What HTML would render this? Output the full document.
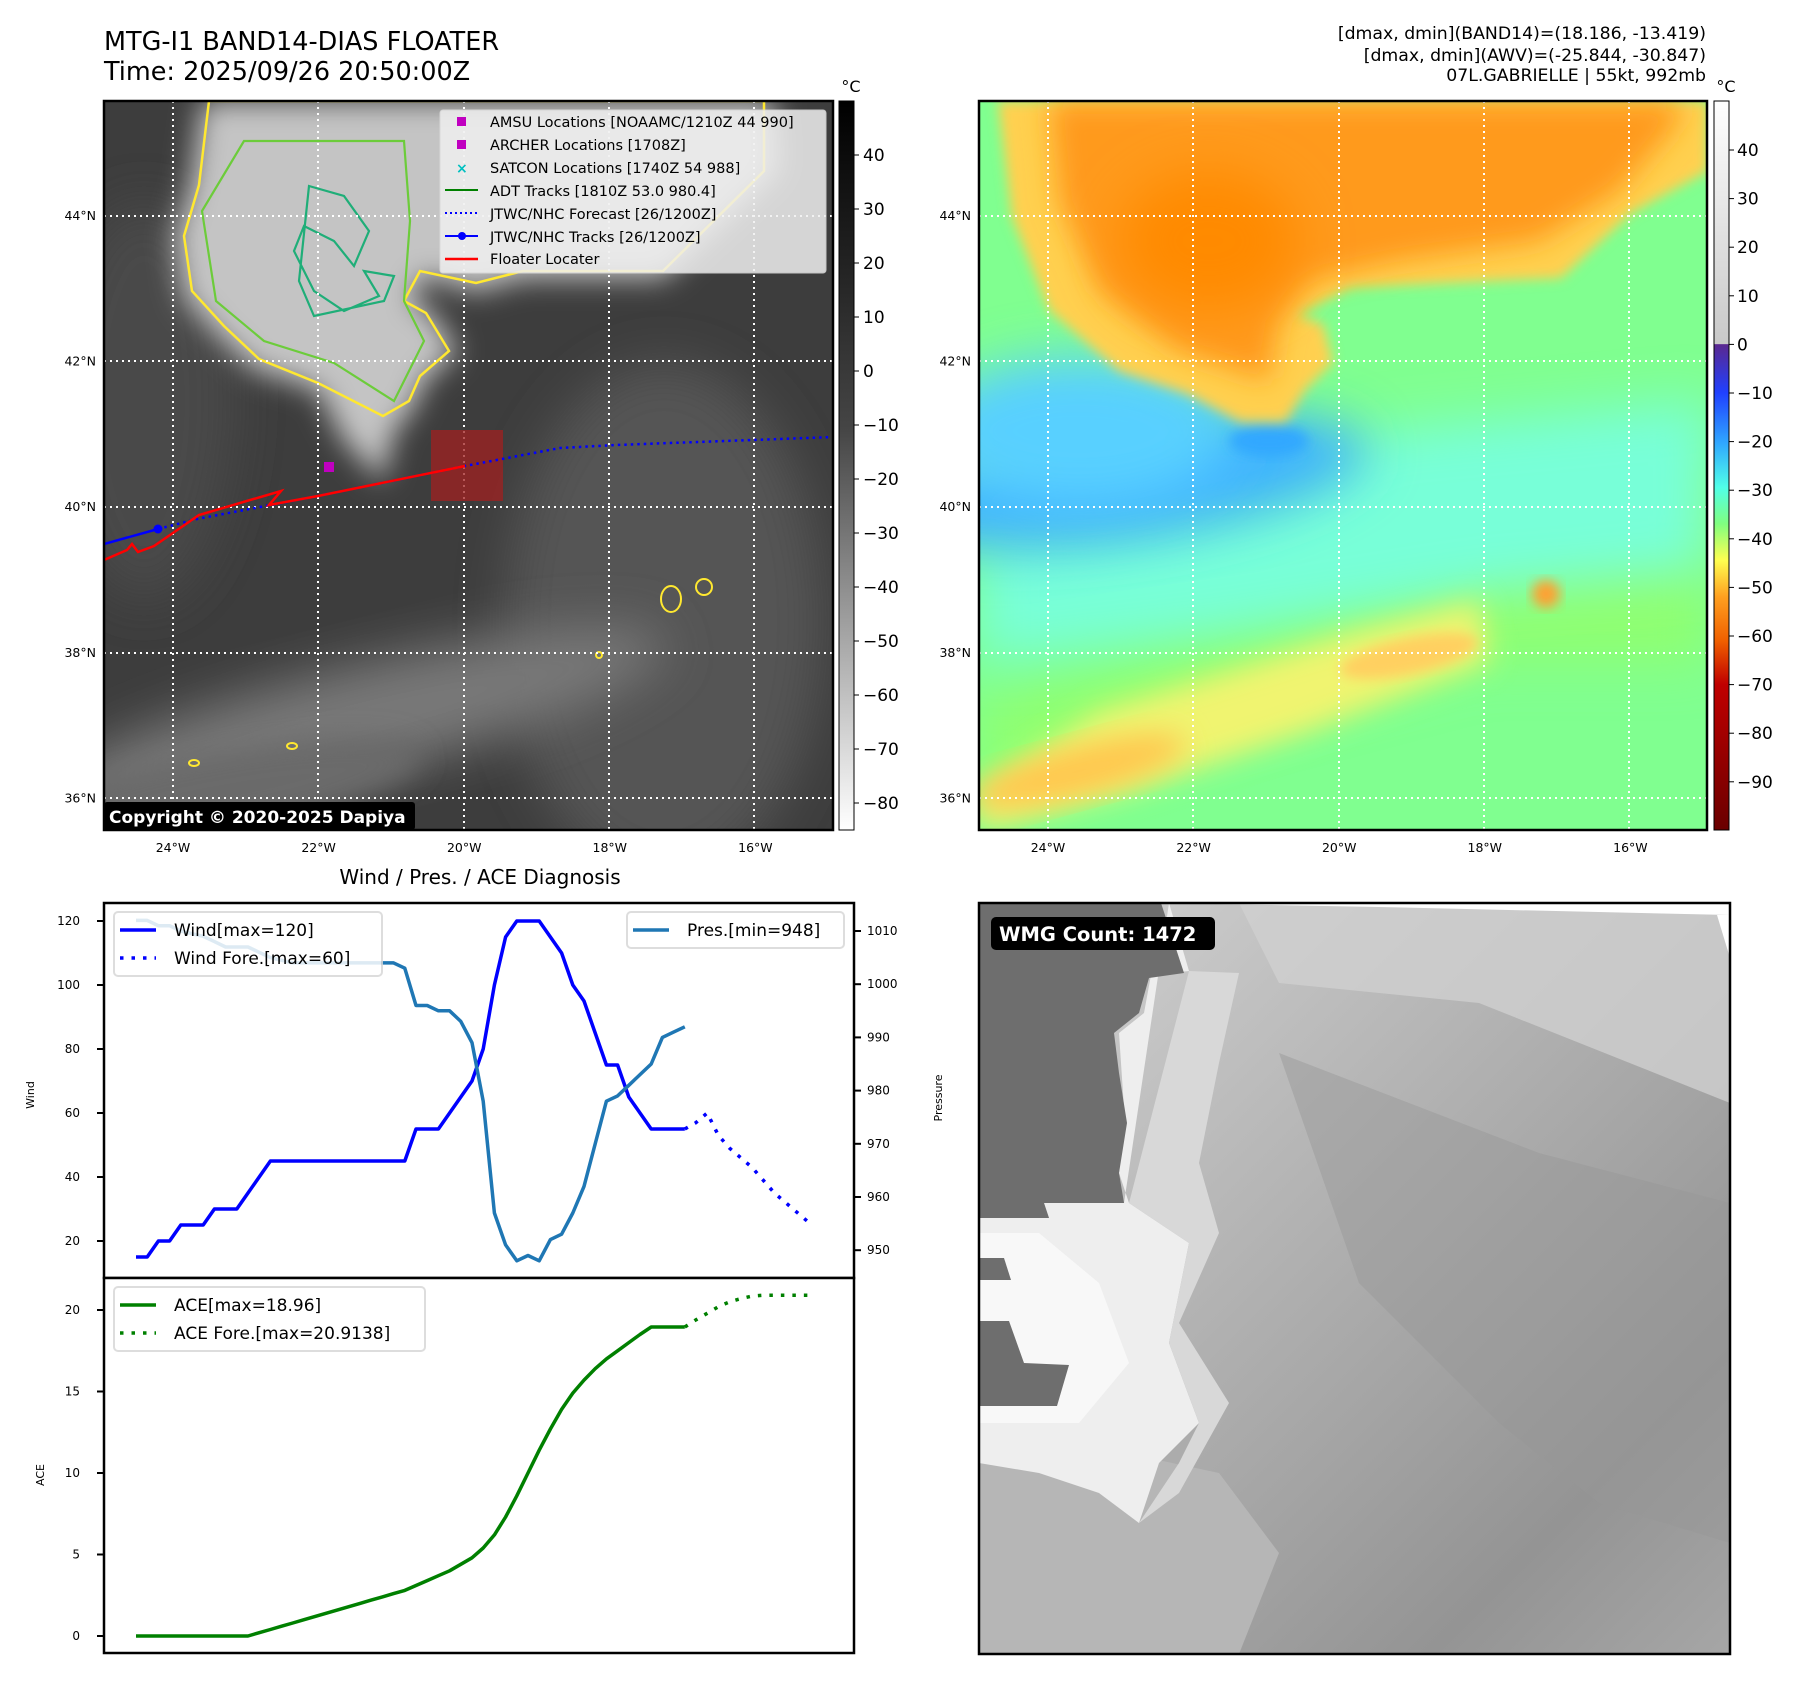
<!DOCTYPE html>
<html><head><meta charset="utf-8"><style>
html,body{margin:0;padding:0;background:#fff}
svg{display:block;font-family:"DejaVu Sans","Liberation Sans",sans-serif}
</style></head><body>
<svg id="fig" width="1797" height="1690" viewBox="0 0 1797 1690" xmlns="http://www.w3.org/2000/svg">
<defs>
<filter id="b6" x="-20%" y="-20%" width="140%" height="140%"><feGaussianBlur stdDeviation="6"/></filter>
<filter id="b14" x="-30%" y="-30%" width="160%" height="160%"><feGaussianBlur stdDeviation="14"/></filter>
<filter id="b25" x="-40%" y="-40%" width="180%" height="180%"><feGaussianBlur stdDeviation="25"/></filter>
<linearGradient id="cb1" x1="0" y1="0" x2="0" y2="1"><stop offset="0" stop-color="#000"/><stop offset="0.45" stop-color="#454545"/><stop offset="1" stop-color="#fff"/></linearGradient>
<linearGradient id="cb2" x1="0" y1="0" x2="0" y2="1">
<stop offset="0" stop-color="#ffffff"/><stop offset="0.333" stop-color="#c8c8c8"/>
<stop offset="0.334" stop-color="#5a2890"/><stop offset="0.40" stop-color="#2040ff"/><stop offset="0.47" stop-color="#30a8ff"/>
<stop offset="0.53" stop-color="#50ffe8"/><stop offset="0.58" stop-color="#80ff80"/><stop offset="0.63" stop-color="#ffff50"/>
<stop offset="0.68" stop-color="#ffa020"/><stop offset="0.74" stop-color="#f06000"/><stop offset="0.80" stop-color="#c00000"/><stop offset="1" stop-color="#6a0000"/></linearGradient>
<linearGradient id="wmgbg" x1="0" y1="0" x2="1" y2="1"><stop offset="0" stop-color="#d4d4d4"/><stop offset="0.55" stop-color="#a8a8a8"/><stop offset="0.8" stop-color="#949494"/><stop offset="1" stop-color="#a6a6a6"/></linearGradient>
<clipPath id="c1"><rect x="0" y="0" width="729" height="729"/></clipPath>
<clipPath id="c2"><rect x="0" y="0" width="751" height="751"/></clipPath>
</defs>

<text x="104" y="50" font-size="25.5">MTG-I1 BAND14-DIAS FLOATER</text>
<text x="104" y="80" font-size="25.5">Time: 2025/09/26 20:50:00Z</text>
<g font-size="17.3" text-anchor="end">
<text x="1706" y="39">[dmax, dmin](BAND14)=(18.186, -13.419)</text>
<text x="1706" y="61">[dmax, dmin](AWV)=(-25.844, -30.847)</text>
<text x="1706" y="81">07L.GABRIELLE | 55kt, 992mb</text>
</g>

<!-- MAP 1 -->
<g transform="translate(104,101)">
<g clip-path="url(#c1)">
<rect width="729" height="729" fill="#3d3d3d"/>
<ellipse cx="560" cy="520" rx="160" ry="260" fill="#555" filter="url(#b25)"/>
<ellipse cx="250" cy="620" rx="320" ry="55" transform="rotate(-14 250 620)" fill="#787878" filter="url(#b25)"/>
<ellipse cx="120" cy="690" rx="200" ry="40" transform="rotate(-10 120 690)" fill="#6a6a6a" filter="url(#b14)"/>
<ellipse cx="40" cy="300" rx="90" ry="200" fill="#4a4a4a" filter="url(#b25)"/>
<polygon points="98,0 86,84 70,135 79,196 112,233 149,268 214,289 240,340 279,380 290,330 310,307 321,279 354,251 326,209 307,200 321,175 372,191 419,177 559,177 675,70 670,0" fill="#c4c4c4" filter="url(#b14)"/>
<polygon points="105,0 95,84 80,135 88,190 120,225 155,258 214,282 279,315 305,300 316,275 345,250 322,212 300,200 316,170 372,182 419,170 559,170 660,70 660,0" fill="none" stroke="#ffe830" stroke-width="2.5"/>
<polygon points="140,40 98,110 112,200 160,240 230,262 290,300 320,240 300,200 306,120 300,40" fill="none" stroke="#6ccc3a" stroke-width="2.2"/>
<path d="M205,85 L240,95 L265,130 L250,165 L230,140 L200,125 L190,150 L210,190 L240,210 L275,195 L260,170 L290,175 L280,200 L210,215 L195,180 Z" fill="none" stroke="#1fae78" stroke-width="2.2"/>
<g fill="none" stroke="#ffe830" stroke-width="2"><ellipse cx="567" cy="498" rx="10" ry="13"/><ellipse cx="600" cy="486" rx="8" ry="8"/><ellipse cx="495" cy="554" rx="3" ry="3"/><ellipse cx="90" cy="662" rx="5" ry="3"/><ellipse cx="188" cy="645" rx="5" ry="3"/></g>
<g stroke="#fff" stroke-width="2" stroke-dasharray="2 4">
<line x1="69" y1="0" x2="69" y2="729"/><line x1="214" y1="0" x2="214" y2="729"/><line x1="360" y1="0" x2="360" y2="729"/><line x1="505" y1="0" x2="505" y2="729"/><line x1="650" y1="0" x2="650" y2="729"/>
<line x1="0" y1="115" x2="729" y2="115"/><line x1="0" y1="260" x2="729" y2="260"/><line x1="0" y1="406" x2="729" y2="406"/><line x1="0" y1="552" x2="729" y2="552"/><line x1="0" y1="697" x2="729" y2="697"/>
</g>
<rect x="327" y="329" width="72" height="71" fill="#a02020" opacity="0.75"/>
<polyline points="54,428 93,418 214,395 361,365 456,347 512,344 730,336" fill="none" stroke="#0000ff" stroke-width="2.5" stroke-dasharray="2.5 4"/>
<polyline points="0,443 54,428" fill="none" stroke="#0000ff" stroke-width="2.5"/>
<circle cx="54" cy="428" r="4.5" fill="#0000ff"/>
<polyline points="0,459 23,449 28,443 34,451 50,445 95,414 177,390 165,404 214,395 361,365" fill="none" stroke="#ff0000" stroke-width="2.5"/>
<rect x="220" y="361" width="10" height="10" fill="#c000c0"/>
<g>
<rect x="336" y="9" width="386" height="163" fill="#f0f0f0" opacity="0.85" stroke="#ddd" rx="3"/>
<g font-size="14.5">
<rect x="353" y="16" width="9" height="9" fill="#c000c0"/><text x="386" y="26">AMSU Locations [NOAAMC/1210Z 44 990]</text>
<rect x="353" y="39" width="9" height="9" fill="#c000c0"/><text x="386" y="49">ARCHER Locations [1708Z]</text>
<text x="352" y="72" fill="#00c0c0" font-weight="bold" font-size="14">×</text><text x="386" y="72">SATCON Locations [1740Z 54 988]</text>
<line x1="341" y1="89" x2="374" y2="89" stroke="#008000" stroke-width="2"/><text x="386" y="95">ADT Tracks [1810Z 53.0 980.4]</text>
<line x1="341" y1="112" x2="374" y2="112" stroke="#0000ff" stroke-width="2" stroke-dasharray="2 3"/><text x="386" y="118">JTWC/NHC Forecast [26/1200Z]</text>
<line x1="341" y1="135" x2="374" y2="135" stroke="#0000ff" stroke-width="2"/><circle cx="358" cy="135" r="4" fill="#0000ff"/><text x="386" y="141">JTWC/NHC Tracks [26/1200Z]</text>
<line x1="341" y1="158" x2="374" y2="158" stroke="#ff0000" stroke-width="2.5"/><text x="386" y="163">Floater Locater</text>
</g></g>
<rect x="0" y="701" width="311" height="28" fill="#000" rx="3"/>
<text x="5" y="722" font-size="17" font-weight="bold" fill="#fff">Copyright © 2020-2025 Dapiya</text>
</g>
<rect x="0" y="0" width="729" height="729" fill="none" stroke="#000" stroke-width="2.5"/>
</g>
<rect x="839" y="101" width="15" height="729" fill="url(#cb1)" stroke="#000" stroke-width="1"/>
<text x="851" y="92" font-size="16" text-anchor="middle">°C</text>
<g id="cb1ticks" font-size="17"></g>

<!-- MAP 2 -->
<g transform="translate(979,101)">
<g clip-path="url(#c1)">
<rect width="729" height="729" fill="#80ff90"/>
<polygon points="0,600 200,540 450,480 729,360 729,560 500,560 200,640 0,700" fill="#90ff70" filter="url(#b25)"/>
<polygon points="0,440 150,420 300,390 400,330 729,300 729,470 500,490 250,530 0,560" fill="#78ffd8" filter="url(#b25)"/>
<ellipse cx="150" cy="380" rx="240" ry="60" transform="rotate(-8 150 380)" fill="#40b4ff" filter="url(#b25)"/>
<ellipse cx="100" cy="330" rx="150" ry="75" fill="#58d0ff" filter="url(#b25)"/>
<ellipse cx="290" cy="340" rx="40" ry="16" fill="#30a8ff" filter="url(#b6)"/>
<polygon points="0,690 120,610 250,570 380,530 500,500 510,560 330,630 150,690 0,729" fill="#f0f470" filter="url(#b14)"/>
<ellipse cx="100" cy="670" rx="110" ry="25" transform="rotate(-15 100 670)" fill="#ffc850" filter="url(#b14)"/>
<ellipse cx="430" cy="555" rx="70" ry="18" transform="rotate(-12 430 555)" fill="#ffd060" filter="url(#b6)"/>
<ellipse cx="567" cy="493" rx="14" ry="14" fill="#ffa030" filter="url(#b6)"/>
<polygon points="19,0 33,116 70,209 140,270 209,293 261,321 307,321 326,289 354,261 344,223 317,214 372,186 466,182 582,177 652,112 729,70 729,0" fill="#ffd050" filter="url(#b6)"/>
<polygon points="70,0 80,100 120,190 200,250 290,280 300,220 330,180 420,160 560,140 640,90 700,20 700,0" fill="#ff9a1a" filter="url(#b14)"/>
<ellipse cx="230" cy="140" rx="90" ry="70" fill="#ff8a00" filter="url(#b25)"/>
<g stroke="#fff" stroke-width="2" stroke-dasharray="2 4">
<line x1="69" y1="0" x2="69" y2="729"/><line x1="214" y1="0" x2="214" y2="729"/><line x1="360" y1="0" x2="360" y2="729"/><line x1="505" y1="0" x2="505" y2="729"/><line x1="650" y1="0" x2="650" y2="729"/>
<line x1="0" y1="115" x2="729" y2="115"/><line x1="0" y1="260" x2="729" y2="260"/><line x1="0" y1="406" x2="729" y2="406"/><line x1="0" y1="552" x2="729" y2="552"/><line x1="0" y1="697" x2="729" y2="697"/>
</g></g>
<rect x="0" y="0" width="728" height="729" fill="none" stroke="#000" stroke-width="2.5"/>
</g>
<rect x="1714" y="101" width="15" height="729" fill="url(#cb2)" stroke="#000" stroke-width="1"/>
<text x="1726" y="92" font-size="16" text-anchor="middle">°C</text>
<g id="cb2ticks" font-size="17"></g>
<g id="maplabels" font-size="12.5"></g>

<!-- CHART -->
<text x="480" y="884" font-size="20" text-anchor="middle">Wind / Pres. / ACE Diagnosis</text>
<g id="chart"></g>

<!-- WMG -->
<g transform="translate(979,903)">
<g clip-path="url(#c2)">
<rect width="751" height="751" fill="url(#wmgbg)"/>
<polygon points="260,0 751,0 751,200 500,100 300,80" fill="#cfcfcf" opacity="0.8"/>
<polygon points="300,150 560,250 751,300 751,640 620,600 520,520 380,380" fill="#969696" opacity="0.45"/>
<polygon points="0,520 100,540 240,570 300,650 260,751 0,751" fill="#b6b6b6"/>
<polygon points="190,0 210,68 172,72 165,110 140,130 146,220 140,270 150,300 210,340 190,440 220,520 180,560 160,620 120,590 60,570 0,560 0,315 70,315 65,300 145,300" fill="#eeeeee"/>
<polygon points="210,68 260,70 240,160 220,260 240,330 200,420 250,500 200,590 160,620 200,560 220,520 190,440 210,340 150,300" fill="#d8d8d8"/>
<polygon points="0,330 60,330 120,380 150,460 100,520 0,520" fill="#f8f8f8"/>
<polygon points="0,0 182,0 205,70 170,75 160,110 135,130 140,170 148,220 140,270 145,300 65,300 70,315 0,315" fill="#6e6e6e"/>
<polygon points="0,355 25,355 32,377 0,377" fill="#6e6e6e"/>
<polygon points="0,418 30,418 45,460 90,462 78,503 0,503" fill="#6e6e6e"/>
<polygon points="183,0 751,0 751,12 400,4" fill="#fff"/>
<polygon points="738,12 751,12 751,55" fill="#fff"/>
</g>
<rect x="12" y="14" width="224" height="33" rx="5" fill="#000"/>
<text x="20" y="38" font-size="19.5" font-weight="bold" fill="#fff">WMG Count: 1472</text>
<rect width="751" height="751" fill="none" stroke="#000" stroke-width="2.5"/>
</g>
</svg>
<script>
const windObs = [15,15,20,20,25,25,25,30,30,30,35,40,45,45,45,45,45,45,45,45,45,45,45,45,45,55,55,55,60,65,70,80,100,115,120,120,120,115,110,100,95,85,75,75,65,60,55,55,55,55];
const windFore = [55,57,60,53,49,46,43,39,35,32,29,26];
const presObs = [1012,1012,1011,1011,1010,1009.5,1009,1008,1007,1007,1007,1006,1005,1004.5,1004,1004,1004,1004,1004,1004,1004,1004,1004,1004,1003,996,996,995,995,993,989,978,957,951,948,949,948,952,953,957,962,970,978,979,981,983,985,990,991,992];
const aceObs = [0,0,0,0,0,0,0,0,0,0,0,0.2,0.4,0.6,0.8,1.0,1.2,1.4,1.6,1.8,2.0,2.2,2.4,2.6,2.8,3.1,3.4,3.7,4.0,4.4,4.8,5.4,6.2,7.3,8.6,10.0,11.4,12.7,13.9,14.9,15.7,16.4,17.0,17.5,18.0,18.5,18.96,18.96,18.96,18.96];
const aceFore = [18.96,19.4,19.8,20.2,20.5,20.7,20.85,20.9,20.91,20.91,20.91,20.91];
const windTicks = [20,40,60,80,100,120];
const presTicks = [950,960,970,980,990,1000,1010];
const aceTicks = [0,5,10,15,20];
const cb1Ticks = [40,30,20,10,0,-10,-20,-30,-40,-50,-60,-70,-80];
const cb2Ticks = [40,30,20,10,0,-10,-20,-30,-40,-50,-60,-70,-80,-90];
const latTicks = [44,42,40,38,36];
const lonTicks = [-24,-22,-20,-18,-16];

const NS='http://www.w3.org/2000/svg';
function mk(tag,attrs,parent){const e=document.createElementNS(NS,tag);for(const k in attrs)e.setAttribute(k,attrs[k]);parent.appendChild(e);return e;}
const xS=i=>136+i*11.2;
const yW=v=>921+(120-v)*3.2;
const yP=p=>931+(1010-p)*5.32;
const yA=a=>1636-a*16.3;
const chart=document.getElementById('chart');
function line(vals,off,ys,color,dash,name){
  const pts=vals.map((v,i)=>xS(i+off).toFixed(1)+','+ys(v).toFixed(1)).join(' ');
  const p=mk('polyline',{points:pts,fill:'none',stroke:color,'stroke-width':3.5,'stroke-linejoin':'round'},chart);
  if(dash)p.setAttribute('stroke-dasharray',dash);
  
  
}
const f1=mk('rect',{x:104,y:903,width:750,height:375,fill:'#fff',stroke:'#000','stroke-width':2.5},chart);


const f2=mk('rect',{x:104,y:1278,width:750,height:375,fill:'#fff',stroke:'#000','stroke-width':2.5},chart);


line(windObs,0,yW,'#0000ff',null,'wind-line');
line(windFore,49,yW,'#0000ff','3.5 8','wind-forecast-line');
line(presObs,0,yP,'#1f77b4',null,'pressure-line');
line(aceObs,0,yA,'#008000',null,'ace-line');
line(aceFore,49,yA,'#008000','3.5 8','ace-forecast-line');
windTicks.forEach(t=>{const y=yW(t);mk('line',{x1:97,y1:y,x2:104,y2:y,stroke:'#000','stroke-width':2},chart);const tx=mk('text',{x:80,y:y+4,'font-size':12,'text-anchor':'end'},chart);tx.textContent=t;
});
presTicks.forEach(t=>{const y=yP(t);mk('line',{x1:854,y1:y,x2:861,y2:y,stroke:'#000','stroke-width':2},chart);const tx=mk('text',{x:867,y:y+4,'font-size':12},chart);tx.textContent=t;
});
aceTicks.forEach(t=>{const y=yA(t);mk('line',{x1:97,y1:y,x2:104,y2:y,stroke:'#000','stroke-width':2},chart);const tx=mk('text',{x:80,y:y+4,'font-size':12,'text-anchor':'end'},chart);tx.textContent=t;
});
function rot(txt,x,y,name){const t=mk('text',{x:x,y:y,'font-size':11,'text-anchor':'middle',transform:`rotate(-90 ${x} ${y})`},chart);t.textContent=txt;
}
rot('Wind',34,1095,'wind-axis-title');rot('Pressure',942,1098,'pressure-axis-title');rot('ACE',44,1475,'ace-axis-title');
function legend(x,y,w,h,items,name){const g=mk('g',{},chart);

mk('rect',{x:x,y:y,width:w,height:h,rx:4,fill:'#fff',stroke:'#d8d8d8','stroke-width':2,opacity:0.85},g);
items.forEach((it,k)=>{const cy=y+18+k*28;const l=mk('line',{x1:x+6,y1:cy,x2:x+42,y2:cy,stroke:it[1],'stroke-width':3.5},g);if(it[2])l.setAttribute('stroke-dasharray','3.5 8');const t=mk('text',{x:x+60,y:cy+6,'font-size':17},g);t.textContent=it[0];});}
legend(114,912,268,64,[['Wind[max=120]','#0000ff',0],['Wind Fore.[max=60]','#0000ff',1]],'wind-legend');
legend(627,912,217,36,[['Pres.[min=948]','#1f77b4',0]],'pressure-legend');
legend(114,1287,311,64,[['ACE[max=18.96]','#008000',0],['ACE Fore.[max=20.9138]','#008000',1]],'ace-legend');
const cbt1=document.getElementById('cb1ticks');
cb1Ticks.forEach(v=>{const y=101+54+(40-v)*5.4;mk('line',{x1:854,y1:y,x2:859,y2:y,stroke:'#000'},cbt1);const t=mk('text',{x:863,y:y+6},cbt1);t.textContent=(v<0?'\u2212'+(-v):v);
});
const cbt2=document.getElementById('cb2ticks');
cb2Ticks.forEach(v=>{const y=101+49+(40-v)*4.86;mk('line',{x1:1729,y1:y,x2:1734,y2:y,stroke:'#000'},cbt2);const t=mk('text',{x:1737,y:y+6},cbt2);t.textContent=(v<0?'\u2212'+(-v):v);
});
const ml=document.getElementById('maplabels');
[104,979].forEach(ox=>{
  latTicks.forEach(la=>{const y=101+115+(44-la)*72.8;const t=mk('text',{x:ox-8,y:y+4,'text-anchor':'end'},ml);t.textContent=la+'°N';
});
  lonTicks.forEach(lo=>{const x=ox+69+(lo+24)*72.8;const t=mk('text',{x:x,y:852,'text-anchor':'middle'},ml);t.textContent=(-lo)+'°W';
});
});
</script>
</body></html>
